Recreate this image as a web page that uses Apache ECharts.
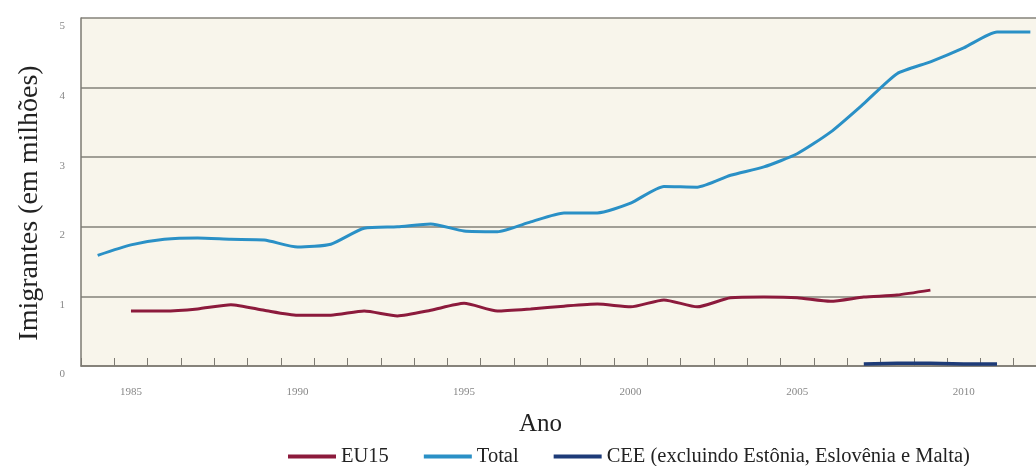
<!DOCTYPE html>
<html>
<head>
<meta charset="utf-8">
<script src="https://cdn.jsdelivr.net/npm/echarts@6/dist/echarts.min.js"></script>
<style>
  html, body { margin: 0; padding: 0; background: #fff; overflow: hidden; }
  #chart { width: 1047px; height: 466px; }
</style>
</head>
<body>
<div id="chart"></div>
<script>
// anos (eixo x)
const years = ['1984', '1985', '1986', '1987', '1988', '1989', '1990', '1991', '1992', '1993',
  '1994', '1995', '1996', '1997', '1998', '1999', '2000', '2001', '2002', '2003',
  '2004', '2005', '2006', '2007', '2008', '2009', '2010', '2011', '2012']

// imigrantes em milhões
const total = [1.59, 1.74, 1.82, 1.84, 1.82, 1.81, 1.71, 1.75, 1.98, 2.0,
  2.04, 1.94, 1.93, 2.07, 2.2, 2.2, 2.34, 2.58, 2.57, 2.74,
  2.86, 3.05, 3.36, 3.77, 4.2, 4.37, 4.57, 4.8, 4.8]
const eu15 = [null, 0.79, 0.79, 0.82, 0.88, 0.8, 0.73, 0.73, 0.79, 0.72,
  0.8, 0.9, 0.79, 0.82, 0.86, 0.89, 0.85, 0.95, 0.85, 0.98,
  0.99, 0.98, 0.93, 0.99, 1.02, 1.09, null, null, null]
const cee = [null, null, null, null, null, null, null, null, null, null,
  null, null, null, null, null, null, null, null, null, null,
  null, null, null, 0.03, 0.04, 0.04, 0.03, 0.03, null]

const serif = '"Liberation Serif", "DejaVu Serif", serif'

const chart = echarts.init(document.getElementById('chart'))

chart.setOption({
  backgroundColor: '#ffffff',
  animation: false,
  grid: {
    left: 81,
    right: 0,
    top: 18,
    bottom: 100,
    show: true,
    backgroundColor: '#f8f5eb',
    borderWidth: 0
  },
  legend: {
    top: 441,
    left: 283,
    icon: 'rect',
    itemWidth: 48,
    itemHeight: 4,
    itemGap: 35,
    textStyle: { fontFamily: serif, fontSize: 20.5, color: '#222' },
    data: ['EU15', 'Total', 'CEE (excluindo Estônia, Eslovênia e Malta)']
  },
  graphic: [
    {
      type: 'text',
      left: 519,
      top: 412,
      style: { text: 'Ano', font: '25px ' + serif, fill: '#222' }
    },
    {
      type: 'text',
      x: 30,
      y: 203,
      rotation: Math.PI / 2,
      style: {
        text: 'Imigrantes (em milhões)',
        font: '28px ' + serif,
        fill: '#222',
        align: 'center',
        verticalAlign: 'middle'
      }
    }
  ],
  xAxis: {
    type: 'category',
    data: years,
    boundaryGap: true,
    axisLine: { lineStyle: { color: '#7d7a72', width: 1.5 } },
    axisTick: {
      show: true,
      inside: true,
      interval: 0,
      length: 8,
      lineStyle: { color: '#7d7a72', width: 1 }
    },
    axisLabel: {
      interval: (i, v) => Number(v) % 5 === 0,
      margin: 21,
      fontFamily: serif,
      fontSize: 11,
      color: '#888'
    },
    splitLine: { show: false }
  },
  yAxis: {
    type: 'value',
    min: 0,
    max: 5,
    interval: 1,
    axisLine: { show: true, lineStyle: { color: '#7d7a72', width: 1.5 } },
    axisTick: { show: false },
    axisLabel: {
      margin: 16,
      verticalAlign: 'top',
      padding: [3, 0, 0, 0],
      fontFamily: serif,
      fontSize: 11,
      color: '#888'
    },
    splitLine: { lineStyle: { color: '#85827a', width: 1.5 } }
  },
  series: [
    {
      name: 'EU15',
      type: 'line',
      data: eu15,
      symbol: 'none',
      smooth: 0.2,
      lineStyle: { width: 3, color: '#8c1a3c' },
      itemStyle: { color: '#8c1a3c' }
    },
    {
      name: 'Total',
      type: 'line',
      data: total,
      symbol: 'none',
      smooth: 0.2,
      lineStyle: { width: 3, color: '#2a90c6' },
      itemStyle: { color: '#2a90c6' }
    },
    {
      name: 'CEE (excluindo Estônia, Eslovênia e Malta)',
      type: 'line',
      data: cee,
      symbol: 'none',
      lineStyle: { width: 3.5, color: '#1d3b78' },
      itemStyle: { color: '#1d3b78' }
    }
  ]
})
</script>
</body>
</html>
